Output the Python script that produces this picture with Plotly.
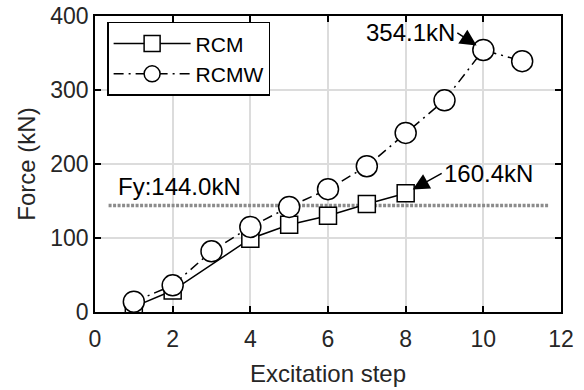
import plotly.graph_objects as go

rcm_x = [1, 2, 4, 5, 6, 7, 8]
rcm_y = [7, 29, 99, 118, 130, 146, 160.4]
rcmw_x = [1, 2, 3, 4, 5, 6, 7, 8, 9, 10, 11]
rcmw_y = [14, 36, 82, 115, 142, 166, 197, 242, 286, 354.1, 339]
fy_x = [0.35, 11.7]
fy_y = [144.0, 144.0]
x_ticks = [0, 2, 4, 6, 8, 10, 12]
y_ticks = [0, 100, 200, 300, 400]

FONT = "Liberation Sans, Arial, sans-serif"
FS = 24
TICK_FS = 23
LEG_FS = 21

fig = go.Figure()
fig.add_trace(go.Scatter(x=fy_x, y=fy_y, mode="lines", showlegend=False,
                         line=dict(color="#8c8c8c", width=3.5, dash="3px,1.5px"), hoverinfo="skip"))
fig.add_trace(go.Scatter(x=rcm_x, y=rcm_y, mode="lines+markers", name="RCM",
                         line=dict(color="black", width=1.5),
                         marker=dict(symbol="square", size=17, color="white",
                                     line=dict(color="black", width=1.5))))
fig.add_trace(go.Scatter(x=rcmw_x, y=rcmw_y, mode="lines+markers", name="RCMW",
                         line=dict(color="black", width=1.5, dash="10px,5px,2px,5px"),
                         marker=dict(symbol="circle", size=21, color="white",
                                     line=dict(color="black", width=1.5))))

fig.add_annotation(x=10, y=354.1, text="354.1kN", showarrow=True, ax=-26, ay=-17,
                   xanchor="right", yanchor="middle", arrowhead=2, arrowsize=2.2,
                   arrowwidth=1.5, standoff=8, arrowcolor="black",
                   font=dict(family=FONT, size=FS, color="black"))
fig.add_annotation(x=8, y=160.4, text="160.4kN", showarrow=True, ax=36, ay=-20,
                   xanchor="left", yanchor="middle", arrowhead=2, arrowsize=2.2,
                   arrowwidth=1.5, standoff=8, arrowcolor="black",
                   font=dict(family=FONT, size=FS, color="black"))
fig.add_annotation(x=0.55, y=169, text="Fy:144.0kN", showarrow=False,
                   xanchor="left", yanchor="middle",
                   font=dict(family=FONT, size=FS, color="black"))

axis_common = dict(showgrid=True, gridcolor="#dcdcdc", gridwidth=1.5,
                   showline=True, linecolor="black", linewidth=1.5, mirror="allticks",
                   ticks="inside", ticklen=6, tickwidth=1.5, tickcolor="black",
                   zeroline=False, automargin=False,
                   tickfont=dict(family=FONT, size=TICK_FS, color="#262626"),
                   title_font=dict(family=FONT, size=FS, color="#262626"))

fig.update_xaxes(range=[0, 12], tickvals=x_ticks, title_text="Excitation step",
                 title_standoff=14, ticklabelstandoff=6, **axis_common)
fig.update_yaxes(range=[0, 400], tickvals=y_ticks, title_text="Force (kN)",
                 title_standoff=8, **axis_common)

fig.update_layout(width=584, height=390, margin=dict(l=95, r=23, t=16, b=78),
                  paper_bgcolor="white", plot_bgcolor="white",
                  font=dict(family=FONT, size=FS, color="black"),
                  legend=dict(x=0.026, y=0.98, xanchor="left", yanchor="top",
                              bgcolor="white", bordercolor="black", borderwidth=1.5,
                              font=dict(family=FONT, size=LEG_FS, color="black"),
                              tracegroupgap=0, itemwidth=77))

fig.write_html("out.html")
